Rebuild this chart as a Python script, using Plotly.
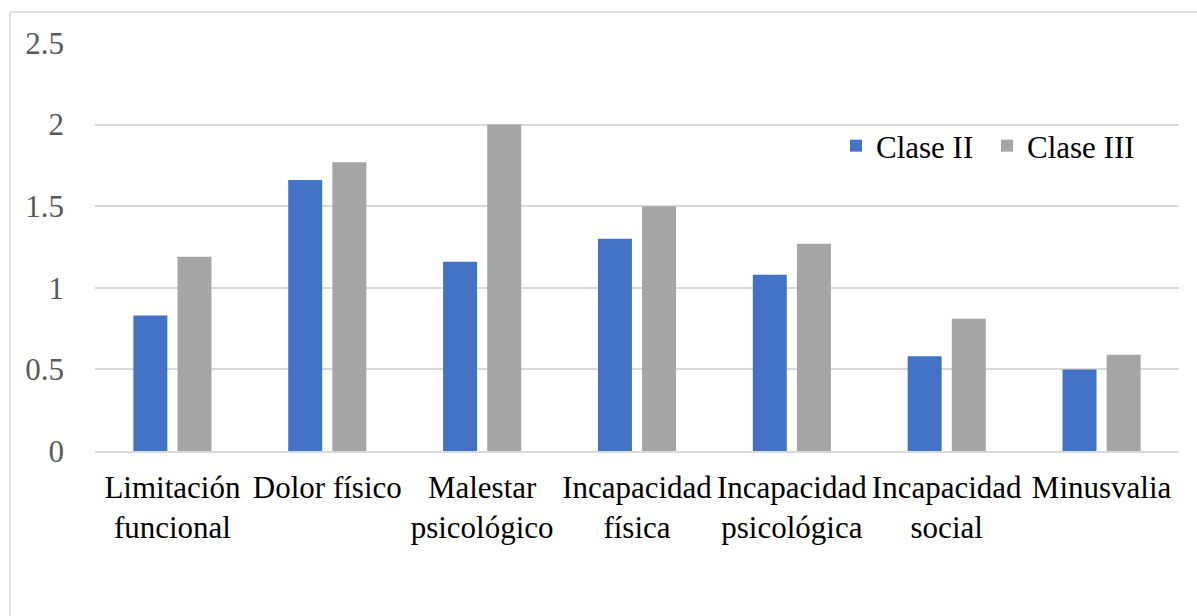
import plotly.graph_objects as go

categories = ["Limitación<br>funcional", "Dolor físico", "Malestar<br>psicológico",
              "Incapacidad<br>física", "Incapacidad<br>psicológica", "Incapacidad<br>social",
              "Minusvalia"]
clase_ii = [0.83, 1.66, 1.16, 1.30, 1.08, 0.58, 0.50]
clase_iii = [1.19, 1.77, 2.00, 1.50, 1.27, 0.81, 0.59]
y_ticks = [0, 0.5, 1, 1.5, 2, 2.5]
y_tick_labels = ["0", "0.5", "1", "1.5", "2", "2.5"]

W, H = 1197, 616
L, R, T, B = 95, 1179, 43, 451
SERIF = "Liberation Serif"
FS = 31

fig = go.Figure()
fig.add_trace(go.Bar(name="Clase II", x=categories, y=clase_ii, marker_color="#4472C4",
                     marker_line_width=0))
fig.add_trace(go.Bar(name="Clase III", x=categories, y=clase_iii, marker_color="#A5A5A5",
                     marker_line_width=0))

fig.update_layout(
    width=W, height=H,
    margin=dict(l=L, r=W - R, t=T, b=H - B, pad=0),
    paper_bgcolor="white", plot_bgcolor="white",
    barmode="group", bargap=0.43, bargroupgap=0.23,
    font=dict(family=SERIF, color="#000000", size=FS),
    showlegend=True,
    legend=dict(orientation="h", x=(836 - L) / (R - L), y=(B - 146) / (B - T),
                xanchor="left", yanchor="middle", bgcolor="rgba(0,0,0,0)",
                font=dict(family=SERIF, size=FS, color="#000000"), itemwidth=30,
                entrywidth=106, entrywidthmode="pixels",
                traceorder="normal"),
    xaxis=dict(showgrid=False, showline=True, linecolor="#D9D9D9", linewidth=1.5,
               ticks="", tickfont=dict(family=SERIF, size=FS, color="#000000"), tickangle=0,
               ticklabelstandoff=8),
    yaxis=dict(range=[0, 2.5], tickvals=y_ticks, ticktext=y_tick_labels,
               showgrid=True, gridcolor="#D9D9D9", gridwidth=1.5,
               zeroline=False, showline=False, ticks="",
               tickfont=dict(family=SERIF, size=FS, color="#595959"), ticklabelstandoff=30),
    shapes=[dict(type="rect", xref="paper", yref="paper",
                 x0=(10 - L) / (R - L), x1=(1200 - L) / (R - L),
                 y0=(B - 640) / (B - T), y1=(B - 12) / (B - T),
                 line=dict(color="#D9D9D9", width=1.5), fillcolor="rgba(0,0,0,0)",
                 layer="below")],
)

fig.write_html("out.html", config={"displayModeBar": False},
               post_script="document.body.style.margin='0';")
